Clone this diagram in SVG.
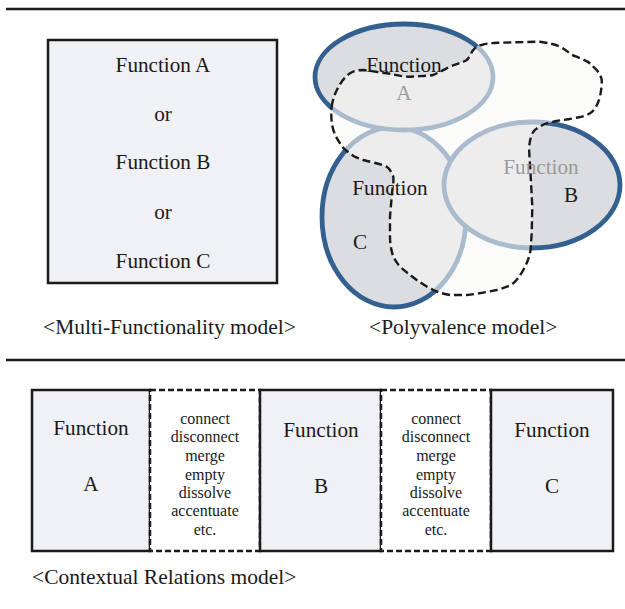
<svg xmlns="http://www.w3.org/2000/svg" width="625" height="609" viewBox="0 0 625 609">
<style>
text{font-family:"Liberation Serif","Times New Roman",serif;fill:#1a1a1a;text-anchor:middle}
.t{font-size:21.2px}
.s{font-size:16px}
.cap{font-size:21.5px;text-anchor:start}
.g{fill:#9a9a9a}
.box{fill:#f0f1f4;stroke:#1a1a1a;stroke-width:2.5}
.dbox{fill:#ffffff;stroke:#1a1a1a;stroke-width:2.5;stroke-dasharray:6 3}
.ell{fill:#dcdde1;stroke:#33608f;stroke-width:4.8}
.rule{stroke:#1a1a1a;stroke-width:2.5}
</style>
<g id="rules">
<line class="rule" x1="6" y1="9" x2="625" y2="9"/>
<line class="rule" x1="6" y1="360" x2="625" y2="360"/>
</g>
<g id="multi">
<rect class="box" x="48" y="40" width="229" height="243"/>
<text class="t" x="163" y="72">Function A</text>
<text class="t" x="163" y="121">or</text>
<text class="t" x="163" y="169">Function B</text>
<text class="t" x="163" y="219">or</text>
<text class="t" x="163" y="268">Function C</text>
<text class="cap" x="43" y="334">&lt;Multi-Functionality model&gt;</text>
</g>
<g id="poly">
<ellipse id="ellC" class="ell" cx="394" cy="217" rx="72" ry="90"/>
<ellipse id="ellA" class="ell" cx="404" cy="77" rx="89" ry="53"/>
<ellipse id="ellB" class="ell" cx="532" cy="185" rx="88" ry="63"/>
<path id="blob" d="M331.7,106.7 C333,96 340,80 350,73.3 C356,70 360,70 363.3,70 C375,71 380,73 386.7,73.3 C397,75 403,77 410,76.7 C420,76 428,76 433.3,75 C440,72 443,70 446.7,68.3 C455,64 462,63 466.7,60 C471,56 471,52 473.3,50 C476,47 478,45 481.7,45 C488,43 494,43 500,42.7 L540,41.7 C548,43 554,44 560,46.7 C567,50 570,55 576.7,56.7 C584,60 590,62 593.3,66.7 C598,71 601,75 601.7,80 C602,86 601,91 600,96.7 C598,104 595,110 590,113.3 C584,117 579,117 573.3,118.3 C566,120 560,120 553.3,121.7 C547,123 543,124 540,126.7 C535,129 533,131 531.7,135 C529,142 529,148 529.3,153.3 L530.7,176.7 L532.3,206.7 L531.7,233.3 C531,242 531,248 530,253.3 C528,261 526,265 523.3,270 C520,276 517,280 513.3,283.3 C508,287 503,288 496.7,290 C487,292 477,294 466.7,295 L450,295 C443,294 438,292 433.3,290 C427,287 421,283 416.7,280 C410,275 405,271 400,266.7 C397,263 395,260 393.3,256.7 C391,250 390,243 390,236.7 L390,216.7 L391.7,196.7 C392,190 394,182 393.3,176.7 C391,171 389,168 386.7,166.7 C378,163 370,162 363.3,160 C357,158 353,156 350,153.3 C345,150 342,147 340,143.3 C337,139 335,135 333.3,130 C331,122 331,114 331.7,106.7 Z" fill="#f8f8f6" fill-opacity="0.6" stroke="#1a1a1a" stroke-width="2.4" stroke-dasharray="8 4"/>
<text class="t" x="404" y="72">Function</text>
<text class="t g" x="404" y="100">A</text>
<text class="t g" x="541" y="174">Function</text>
<text class="t" x="571" y="202">B</text>
<text class="t" x="390" y="195">Function</text>
<text class="t" x="360" y="249">C</text>
<text class="cap" x="369" y="334">&lt;Polyvalence model&gt;</text>
</g>
<g id="contextual">
<rect class="box" x="32" y="390" width="118" height="161"/>
<text class="t" x="91" y="435">Function</text>
<text class="t" x="91" y="491">A</text>
<rect class="dbox" x="150" y="390" width="110" height="161"/>
<text class="s" x="205" y="424">connect</text>
<text class="s" x="205" y="442">disconnect</text>
<text class="s" x="205" y="461">merge</text>
<text class="s" x="205" y="480">empty</text>
<text class="s" x="205" y="498">dissolve</text>
<text class="s" x="205" y="516">accentuate</text>
<text class="s" x="205" y="535">etc.</text>
<rect class="box" x="260" y="390" width="121" height="161"/>
<text class="t" x="321" y="437">Function</text>
<text class="t" x="321" y="493">B</text>
<rect class="dbox" x="381" y="390" width="110" height="161"/>
<text class="s" x="436" y="424">connect</text>
<text class="s" x="436" y="442">disconnect</text>
<text class="s" x="436" y="461">merge</text>
<text class="s" x="436" y="480">empty</text>
<text class="s" x="436" y="498">dissolve</text>
<text class="s" x="436" y="516">accentuate</text>
<text class="s" x="436" y="535">etc.</text>
<rect class="box" x="491" y="390" width="122" height="161"/>
<text class="t" x="552" y="437">Function</text>
<text class="t" x="552" y="493">C</text>
<text class="cap" x="32" y="584">&lt;Contextual Relations model&gt;</text>
</g>
</svg>
